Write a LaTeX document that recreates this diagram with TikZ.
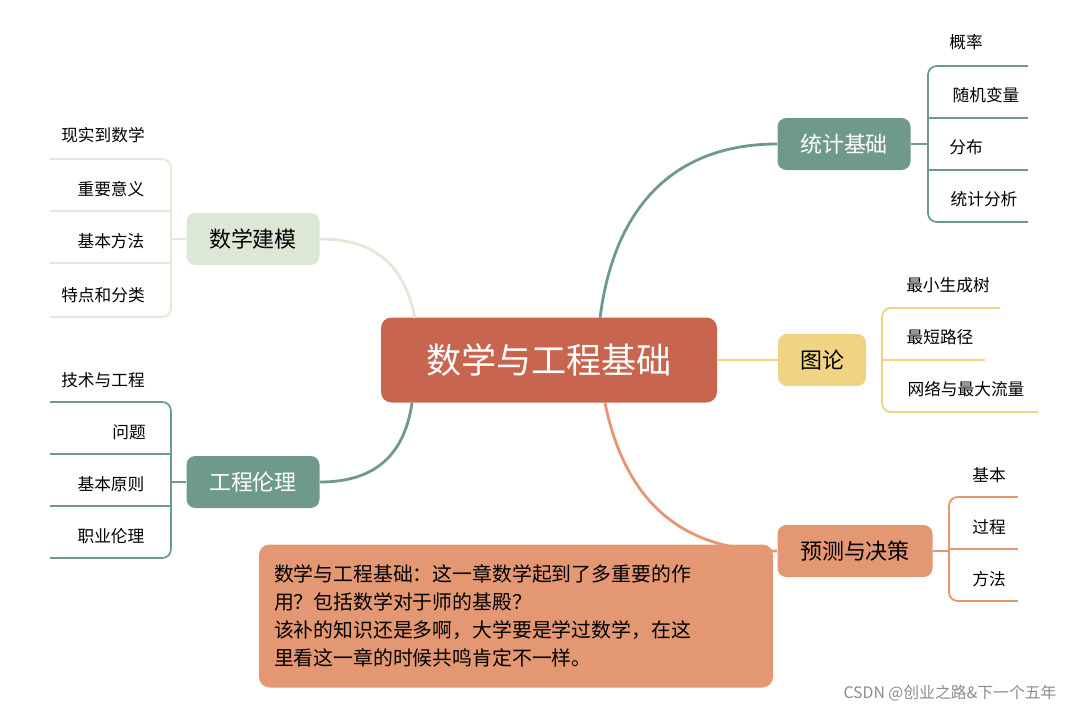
\documentclass[tikz,border=0pt]{standalone}
\usepackage{fontspec}
\setmainfont{Noto Sans CJK SC}
\usetikzlibrary{positioning}
\definecolor{brick}{HTML}{C8654F}
\definecolor{sage}{HTML}{6F9A8A}
\definecolor{mint}{HTML}{DDE7D6}
\definecolor{mintline}{HTML}{E2E9D9}
\definecolor{sand}{HTML}{F0D483}
\definecolor{peach}{HTML}{E39772}
\tikzset{
  topic/.style={rounded corners=5pt, minimum height=52*0.02cm, inner xsep=6pt, font=\fontsize{12.5}{14}\selectfont},
  leaf/.style={font=\fontsize{9.5}{11}\selectfont, inner sep=0pt},
  branch/.style={line width=1.6pt},
  twig/.style={line width=1pt, rounded corners=5pt}
}
\begin{document}
\begin{tikzpicture}[x=0.02cm, y=-0.02cm]
 \useasboundingbox (0,0) rectangle (1080,711);
 % centre
 \node[fill=brick, text=white, rounded corners=6pt, minimum width=336*0.02cm, minimum height=85*0.02cm,
       font=\fontsize{20}{24}\selectfont, name=root] at (549,360) {数学与工程基础};
 % right topics
 \node[topic, fill=sage, text=white, minimum width=133*0.02cm, name=stat] at (844,144) {统计基础};
 \node[topic, fill=sand, minimum width=88*0.02cm, name=graph] at (822,360) {图论};
 \node[topic, fill=peach, minimum width=155*0.02cm, name=pred] at (855,551) {预测与决策};
 % left topics
 \node[topic, fill=mint, minimum width=133*0.02cm, name=model] at (253,239) {数学建模};
 \node[topic, fill=sage, text=white, minimum width=133*0.02cm, name=ethic] at (253,482) {工程伦理};

 \coordinate (rootTR) at (600,318);
 \coordinate (rootBR) at (605,403);
 \coordinate (rootTL) at (415,318);
 \coordinate (rootBL) at (412,403);
 \draw[branch, sage] (rootTR) .. controls (615,200) and (680,144) .. (stat.west);
 \draw[branch, sand] (root.east) -- (graph.west);
 \draw[branch, peach] (rootBR) .. controls (625,500) and (680,551) .. (pred.west);
 \draw[branch, mintline] (model.east) .. controls (380,239) and (405,270) .. (rootTL);
 \draw[branch, sage] (ethic.east) .. controls (380,482) and (405,450) .. (rootBL);

 % statistics leaves
 \draw[twig, sage] (stat.east) -- (928,144);
 \draw[twig, sage] (1028,66) -- (928,66) -- (928,222) -- (1028,222);
 \foreach \y in {118,170} \draw[sage, line width=1pt] (928,\y) -- (1028,\y);
 \node[leaf, name=s1] at (966,42) {概率};
 \node[leaf, name=s2] at (986,95) {随机变量};
 \node[leaf, name=s3] at (966,147) {分布};
 \node[leaf, name=s4] at (984,199) {统计分析};

 % graph leaves
 \draw[twig, sand] (1000,308) -- (882,308) -- (882,412) -- (1038,412);
 \draw[sand, line width=1pt] (882,360) -- (985,360);
 \node[leaf, name=g1] at (948,285) {最小生成树};
 \node[leaf, name=g2] at (940,337) {最短路径};
 \node[leaf, name=g3] at (966,389) {网络与最大流量};

 % prediction leaves
 \draw[twig, peach] (pred.east) -- (949,551);
 \draw[twig, peach] (1018,497) -- (949,497) -- (949,601) -- (1018,601);
 \draw[peach, line width=1pt] (949,549) -- (1018,549);
 \node[leaf, name=p1] at (989,475) {基本};
 \node[leaf, name=p2] at (989,527) {过程};
 \node[leaf, name=p3] at (989,579) {方法};

 % modelling leaves
 \draw[twig, mintline] (50,159) -- (171,159) -- (171,317) -- (50,317);
 \foreach \y in {211,263} \draw[mintline, line width=1pt] (50,\y) -- (171,\y);
 \draw[mintline, line width=1pt] (171,239) -- (model.west);
 \node[leaf, name=m1] at (103,135) {现实到数学};
 \node[leaf, name=m2] at (111,189) {重要意义};
 \node[leaf, name=m3] at (111,241) {基本方法};
 \node[leaf, name=m4] at (103,295) {特点和分类};

 % ethics leaves
 \draw[twig, sage] (50,402) -- (171,402) -- (171,558) -- (50,558);
 \foreach \y in {454,506} \draw[sage, line width=1pt] (50,\y) -- (171,\y);
 \draw[sage, line width=1pt] (171,482) -- (ethic.west);
 \node[leaf, name=e1] at (103,380) {技术与工程};
 \node[leaf, name=e2] at (129,432) {问题};
 \node[leaf, name=e3] at (111,484) {基本原则};
 \node[leaf, name=e4] at (111,536) {职业伦理};

 % note
 \node[fill=peach, rounded corners=6pt, minimum width=514*0.02cm, minimum height=143*0.02cm,
       align=left, text width=484*0.02cm, font=\fontsize{11.3}{16}\selectfont, name=note] at (516,616)
   {数学与工程基础：这一章数学起到了多重要的作\\用？包括数学对于师的基殿？\\该补的知识还是多啊，大学要是学过数学，在这\\里看这一章的时候共鸣肯定不一样。};
 \node[text=black!45, font=\fontsize{9}{10}\selectfont, name=mark] at (950,693) {CSDN @创业之路\&下一个五年};
\end{tikzpicture}
\end{document}
